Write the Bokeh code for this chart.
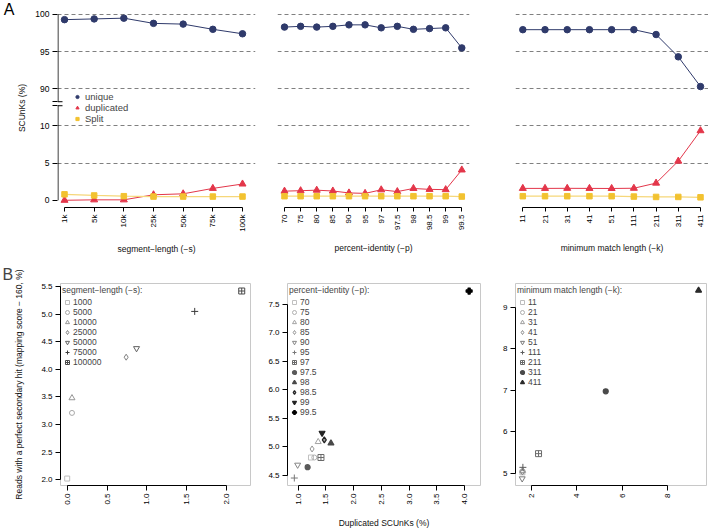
import math

from bokeh.embed import file_html
from bokeh.layouts import column, row
from bokeh.models import (FixedTicker, Legend, LegendItem, LinearAxis,
                          PrintfTickFormatter, Range1d)
from bokeh.plotting import figure
from bokeh.resources import INLINE

FONT = "Liberation Sans"

# ---- segment-length (-s) -------------------------------------------------
seg_ticks = ["1k", "5k", "10k", "25k", "50k", "75k", "100k"]
seg_names = ["1000", "5000", "10000", "25000", "50000", "75000", "100000"]
seg_unique = [99.3, 99.4, 99.5, 98.8, 98.7, 98.0, 97.4]
seg_dup = [0.0, 0.06, 0.06, 0.74, 0.87, 1.60, 2.19]
seg_split = [0.8, 0.65, 0.55, 0.5, 0.5, 0.5, 0.5]
seg_hits = [2.02, 3.21, 3.48, 4.22, 4.38, 5.05, 5.42]

# ---- percent-identity (-p) -----------------------------------------------
pid_ticks = ["70", "75", "80", "85", "90", "95", "97", "97.5", "98", "98.5", "99", "99.5"]
pid_unique = [98.3, 98.4, 98.3, 98.4, 98.6, 98.6, 98.2, 98.4, 98.0, 98.1, 98.2, 95.5]
pid_dup = [1.23, 1.29, 1.36, 1.25, 0.99, 0.93, 1.41, 1.17, 1.59, 1.47, 1.43, 4.08]
pid_split = [0.55, 0.55, 0.55, 0.55, 0.55, 0.55, 0.55, 0.55, 0.55, 0.55, 0.55, 0.5]
pid_hits = [4.81, 4.81, 5.085, 4.96, 4.68, 4.45, 4.81, 4.64, 5.06, 5.12, 5.24, 7.73]

# ---- minimum match length (-k) -------------------------------------------
mml_ticks = ["11", "21", "31", "41", "51", "111", "211", "311", "411"]
mml_unique = [97.95, 97.95, 97.95, 97.95, 97.95, 97.95, 97.3, 94.3, 90.3]
mml_dup = [1.60, 1.60, 1.61, 1.60, 1.59, 1.62, 2.31, 5.27, 9.36]
mml_split = [0.55, 0.55, 0.55, 0.55, 0.55, 0.5, 0.45, 0.45, 0.4]
mml_hits = [5.02, 5.04, 5.06, 5.03, 4.87, 5.14, 5.47, 6.97, 9.40]

# broken y axis: 10..90 is squeezed to the height of 5 units
Y_TICKS = [0, 5, 10, 90, 95, 100]


def squeeze(v):
    return v if v <= 10 else v - 75


UNIQ = "#2F3A6B"
DUP = "#E3364A"
SPLIT_M = "#F2C230"
SPLIT_L = "#F6D77A"

A_H = 258
B_H = 272
A_YR = (-0.97, 25.8)
A_FRAME_H = 199


def style_axis(ax, size="8.5px"):
    ax.axis_line_color = "black"
    ax.axis_line_width = 1
    ax.major_tick_line_color = "black"
    ax.major_tick_out = 5
    ax.major_tick_in = 0
    ax.minor_tick_line_color = None
    ax.major_label_text_font = FONT
    ax.major_label_text_font_size = size
    ax.major_label_text_color = "black"
    ax.major_label_standoff = 3
    ax.axis_label_text_font = FONT
    ax.axis_label_text_font_size = "8.5px"
    ax.axis_label_text_font_style = "normal"
    ax.axis_label_text_color = "#111111"


def panel_a(ticks, unique, dup, split, xlabel, width, bl, br, xr, title_standoff,
            with_y=False):
    n = len(ticks)
    idx = list(range(n))
    p = figure(width=width, height=A_H, x_range=Range1d(*xr),
               y_range=Range1d(*A_YR), output_backend="svg",
               toolbar_location=None, min_border_left=bl, min_border_right=br,
               min_border_top=8, min_border_bottom=A_H - 8 - A_FRAME_H)
    p.outline_line_color = None
    p.background_fill_color = "white"
    p.border_fill_color = "white"
    p.xgrid.visible = False
    p.ygrid.ticker = FixedTicker(ticks=[squeeze(t) for t in Y_TICKS[1:]])
    p.ygrid.grid_line_color = "#808080"
    p.ygrid.grid_line_dash = "4 3"
    p.ygrid.grid_line_width = 1

    xa = p.xaxis[0]
    style_axis(xa, "8px")
    xa.ticker = FixedTicker(ticks=idx)
    xa.major_label_overrides = {i: t for i, t in enumerate(ticks)}
    xa.major_label_orientation = math.pi / 2
    xa.bounds = (0, n - 1)
    xa.major_tick_out = 4
    xa.axis_label = xlabel
    xa.axis_label_standoff = title_standoff

    if not with_y:
        p.yaxis[0].visible = False

    yu = [squeeze(v) for v in unique]
    yd = [squeeze(v) for v in dup]
    ys = [squeeze(v) for v in split]
    p.line(idx, yu, line_color=UNIQ, line_width=1)
    su = p.scatter(idx, yu, marker="circle", size=6.5, fill_color=UNIQ,
                   line_color=UNIQ)
    p.line(idx, yd, line_color=DUP, line_width=1)
    sd = p.scatter(idx, yd, marker="triangle", size=7, fill_color=DUP,
                   line_color=DUP)
    p.line(idx, ys, line_color=SPLIT_L, line_width=1.2)
    ss = p.scatter(idx, ys, marker="square", size=5.5, fill_color=SPLIT_M,
                   line_color=SPLIT_M)
    return p, (su, sd, ss)


A1_XR = (-0.236, 6.438)
a1, (su, sd, ss) = panel_a(seg_ticks, seg_unique, seg_dup, seg_split,
                           "segment\u2212length (\u2212s)", 262, 57, 7,
                           A1_XR, 9, with_y=True)
a2, _ = panel_a(pid_ticks, pid_unique, pid_dup, pid_split,
                "percent\u2212identity (\u2212p)", 230, 15, 23,
                (-0.434, 11.478), 10)
a3, _ = panel_a(mml_ticks, mml_unique, mml_dup, mml_split,
                "minimum match length (\u2212k)", 216, 23, 0,
                (-0.329, 8.36), 13)

leg_a = Legend(items=[LegendItem(label="unique", renderers=[su]),
                      LegendItem(label="duplicated", renderers=[sd]),
                      LegendItem(label="Split", renderers=[ss])],
               location=(16, 83), border_line_color=None,
               background_fill_alpha=0, padding=0, margin=0, spacing=0,
               glyph_width=8, glyph_height=11, label_height=11,
               label_standoff=4, label_text_font=FONT,
               label_text_font_size="9.5px")
a1.add_layout(leg_a)

# left axis of the first panel, drawn with a break between 10 and 90
brk_lo, brk_hi = 12.72, 13.26
ya = a1.yaxis[0]
style_axis(ya)
ya.ticker = FixedTicker(ticks=[squeeze(t) for t in Y_TICKS] + [brk_lo, brk_hi])
labels = {squeeze(t): str(t) for t in Y_TICKS}
labels.update({brk_lo: "", brk_hi: ""})
ya.major_label_overrides = labels
ya.axis_line_color = None
ya.axis_label = "SCUnKs (%)"
ya.axis_label_standoff = 5

xpp = (A1_XR[1] - A1_XR[0]) / (262 - 57 - 7)
x_edge = A1_XR[0] + 0.5 * xpp
a1.segment(x0=[x_edge, x_edge], y0=[0, brk_hi], x1=[x_edge, x_edge],
           y1=[brk_lo, squeeze(100)], line_color="black", line_width=1)
a1.segment(x0=[A1_XR[0], A1_XR[0]], y0=[brk_lo, brk_hi],
           x1=[A1_XR[0] + 5 * xpp, A1_XR[0] + 5 * xpp], y1=[brk_lo, brk_hi],
           line_color="black", line_width=1)

# panel letter "A" carried by an unlined outer axis
tag_y = A_YR[1] - 0.02
tag_axis = LinearAxis(ticker=FixedTicker(ticks=[tag_y]),
                      major_label_overrides={tag_y: "A"},
                      axis_line_color=None, major_tick_line_color=None,
                      minor_tick_line_color=None, major_tick_out=0,
                      major_tick_in=0, axis_label_standoff=0,
                      major_label_standoff=0, major_label_text_font=FONT,
                      major_label_text_font_size="16px",
                      major_label_text_color="black")
a1.add_layout(tag_axis, "left")

# ---- panel B ------------------------------------------------------------
SHAPES = ["square", "circle", "triangle", "diamond", "inverted_triangle",
          "cross", "square_cross", "circle", "triangle", "diamond",
          "inverted_triangle", "plus"]
SIZES = [5, 5, 6, 6, 6, 7, 6, 5, 6, 6, 6, 6]
FILLED = [False, False, False, False, False, False, False, True, True, True,
          True, True]

seg_greys = ["#bdbdbd", "#a8a8a8", "#959595", "#808080", "#626262", "#3a3a3a",
             "#4a4a4a"]
pid_greys = ["#c0c0c0", "#b0b0b0", "#a2a2a2", "#949494", "#868686", "#787878",
             "#6a6a6a", "#5a5a5a", "#484848", "#363636", "#222222", "#000000"]
mml_greys = ["#bdbdbd", "#adadad", "#9c9c9c", "#8c8c8c", "#7a7a7a", "#5c5c5c",
             "#6a6a6a", "#4a4a4a", "#2a2a2a"]


def panel_b(title, names, dup, hits, greys, xr, yr, xt, yt, fmt, width, bl, br):
    p = figure(width=width, height=B_H, x_range=Range1d(*xr),
               y_range=Range1d(*yr), output_backend="svg",
               toolbar_location=None, min_border_left=bl, min_border_right=br,
               min_border_top=25, min_border_bottom=B_H - 25 - 208)
    p.outline_line_color = "#c8c8c8"
    p.outline_line_width = 1
    p.grid.visible = False
    p.background_fill_color = "white"
    p.border_fill_color = "white"
    xa, ya = p.xaxis[0], p.yaxis[0]
    style_axis(xa, "8px")
    style_axis(ya, "8px")
    xa.ticker = FixedTicker(ticks=xt)
    ya.ticker = FixedTicker(ticks=yt)
    xa.bounds = (xt[0], xt[-1])
    ya.bounds = (yt[0], yt[-1])
    xa.formatter = PrintfTickFormatter(format=fmt[0])
    ya.formatter = PrintfTickFormatter(format=fmt[1])
    xa.major_label_orientation = math.pi / 2

    items = []
    for i, name in enumerate(names):
        col = greys[i]
        ring = SHAPES[i] == "diamond" and FILLED[i]
        r = p.scatter([dup[i]], [hits[i]], marker=SHAPES[i], size=SIZES[i],
                      line_color="#222222" if ring else col,
                      fill_color=("#9a9a9a" if ring else col) if FILLED[i] else None,
                      line_width=1.2 if FILLED[i] else 1)
        items.append(LegendItem(label=name, renderers=[r]))
    leg = Legend(items=items, title=title, location="top_left",
                 border_line_color=None, background_fill_alpha=0,
                 padding=1, margin=2, spacing=0, glyph_width=10,
                 glyph_height=10, label_height=10, label_standoff=1,
                 label_text_font=FONT, label_text_font_size="8.5px",
                 title_text_font=FONT, title_text_font_size="8.5px",
                 title_text_font_style="normal", title_standoff=2)
    p.add_layout(leg)
    return p


b1 = panel_b("segment\u2212length (\u2212s):", seg_names, seg_dup, seg_hits,
             seg_greys, (-0.084, 2.30), (1.894, 5.556),
             [0.0, 0.5, 1.0, 1.5, 2.0], [2.0, 2.5, 3.0, 3.5, 4.0, 4.5, 5.0, 5.5],
             ("%.1f", "%.1f"), 262, 60, 12)
b1.yaxis[0].axis_label = "Reads with a perfect secondary hit (mapping score \u2212 160, %)"
b1.yaxis[0].axis_label_standoff = 14
b1.title.text = "B"
b1.title.align = "left"
b1.title.offset = -58
b1.title.standoff = 1
b1.title.vertical_align = "bottom"
b1.title.text_font = FONT
b1.title.text_font_size = "16px"
b1.title.text_font_style = "normal"

b2 = panel_b("percent\u2212identity (\u2212p):", pid_ticks, pid_dup, pid_hits,
             pid_greys, (0.807, 4.285), (4.319, 7.862),
             [1.0, 1.5, 2.0, 2.5, 3.0, 3.5, 4.0], [4.5, 5.0, 5.5, 6.0, 6.5, 7.0, 7.5],
             ("%.1f", "%.1f"), 235, 25, 17)
b2.xaxis[0].axis_label = "Duplicated SCUnKs (%)"
b2.xaxis[0].axis_label_standoff = 10

b3 = panel_b("minimum match length (\u2212k):", mml_ticks, mml_dup, mml_hits,
             mml_greys, (1.295, 9.709), (4.703, 9.567),
             [2, 4, 6, 8], [5, 6, 7, 8, 9], ("%d", "%d"), 211, 18, 2)

layout = column(row(a1, a2, a3), row(b1, b2, b3))

with open("out.html", "w") as f:
    f.write(file_html(layout, INLINE))
